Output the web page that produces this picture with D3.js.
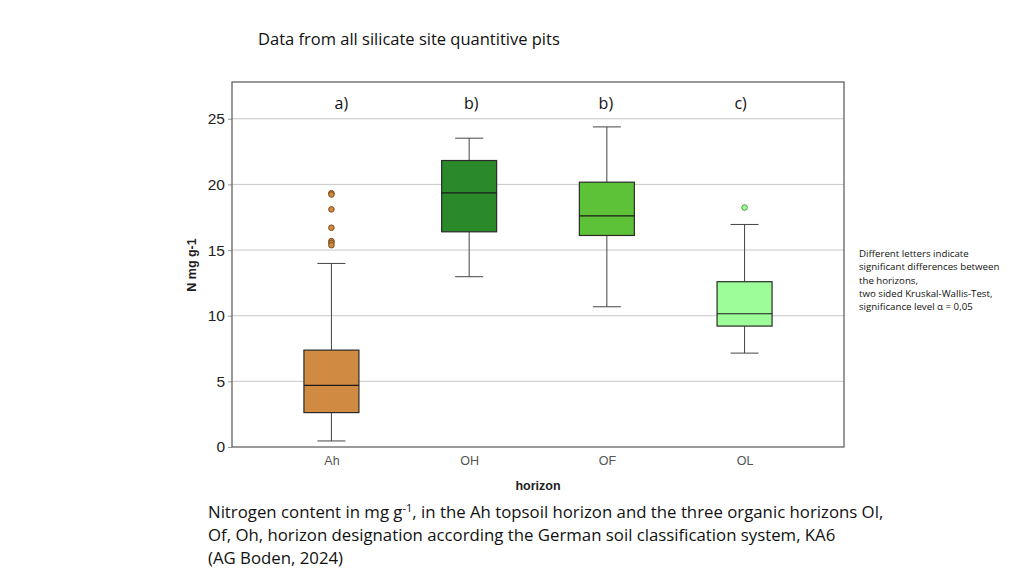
<!DOCTYPE html>
<html>
<head>
<meta charset="utf-8">
<script src="https://cdn.jsdelivr.net/npm/d3@7"></script>
<style>
  body { margin: 0; background: #fff; }
  svg { display: block; }
</style>
</head>
<body>
<svg id="chart" width="1024" height="576"></svg>
<script>
// horizons and their five-number summaries (N mg g-1)
const horizons = ["Ah", "OH", "OF", "OL"];
const whiskerLow = [0.46, 12.97, 10.68, 7.15];
const q1 = [2.62, 16.39, 16.11, 9.21];
const median = [4.70, 19.36, 17.61, 10.15];
const q3 = [7.38, 21.82, 20.17, 12.59];
const whiskerHigh = [13.98, 23.52, 24.38, 16.95];
const outliers = [
    [19.33, 19.23, 18.1, 16.7, 15.68, 15.55, 15.37],
    [],
    [],
    [18.24]
];
const groupLetters = ["a)", "b)", "b)", "c)"];
const yTicks = [0, 5, 10, 15, 20, 25];

const boxColors = ["#d18a41", "#2a8a2a", "#5ec238", "#9dfd98"];
const dotStroke = ["#7a4a1c", "#1c5c1c", "#3a7a22", "#4f9a4a"];

const svg = d3.select("#chart");

const margin = { left: 232, right: 180, top: 82, bottom: 129 };
const width = 1024 - margin.left - margin.right;
const height = 576 - margin.top - margin.bottom;

const x = d3.scalePoint()
    .domain(horizons)
    .range([0, width])
    .padding(0.722);

const y = d3.scaleLinear()
    .domain([0, 27.8])
    .range([height, 0]);

const g = svg.append("g")
    .attr("transform", `translate(${margin.left},${margin.top})`);

// gridlines
g.append("g")
    .selectAll("line")
    .data(yTicks.filter(t => t > 0))
    .enter().append("line")
    .attr("x1", 0)
    .attr("x2", width)
    .attr("y1", d => y(d))
    .attr("y2", d => y(d))
    .attr("stroke", "#c8c8c8")
    .attr("stroke-width", 1);

// y axis
const yAxis = g.append("g")
    .call(d3.axisLeft(y).tickValues(yTicks).tickSize(4).tickPadding(3));
yAxis.select(".domain").remove();
yAxis.selectAll(".tick line").attr("stroke", "#999");
yAxis.selectAll("text")
    .attr("font-family", "Liberation Sans, Arial, sans-serif")
    .attr("font-size", 15.5)
    .attr("fill", "#222");

// x axis labels
const xAxis = g.append("g")
    .attr("transform", `translate(0,${height})`)
    .call(d3.axisBottom(x).tickSize(0).tickPadding(9));
xAxis.select(".domain").remove();
xAxis.selectAll("text")
    .attr("font-family", "Liberation Sans Narrow, Liberation Sans, Arial, sans-serif")
    .attr("font-size", 12.5)
    .attr("fill", "#555");

const boxWidth = 55;
const capWidth = 28;

const boxData = horizons.map((h, i) => ({
    h: h, i: i,
    lo: whiskerLow[i], q1: q1[i], med: median[i], q3: q3[i], hi: whiskerHigh[i],
    out: outliers[i]
}));

const boxes = g.selectAll(".box")
    .data(boxData)
    .enter().append("g")
    .attr("class", "box")
    .attr("transform", d => `translate(${x(d.h)},0)`);

// whiskers
boxes.append("line")
    .attr("x1", 0).attr("x2", 0)
    .attr("y1", d => y(d.lo)).attr("y2", d => y(d.q1))
    .attr("stroke", "#444");
boxes.append("line")
    .attr("x1", 0).attr("x2", 0)
    .attr("y1", d => y(d.q3)).attr("y2", d => y(d.hi))
    .attr("stroke", "#444");
boxes.append("line")
    .attr("x1", -capWidth / 2).attr("x2", capWidth / 2)
    .attr("y1", d => y(d.lo)).attr("y2", d => y(d.lo))
    .attr("stroke", "#444");
boxes.append("line")
    .attr("x1", -capWidth / 2).attr("x2", capWidth / 2)
    .attr("y1", d => y(d.hi)).attr("y2", d => y(d.hi))
    .attr("stroke", "#444");

// boxes
boxes.append("rect")
    .attr("x", -boxWidth / 2)
    .attr("width", boxWidth)
    .attr("y", d => y(d.q3))
    .attr("height", d => y(d.q1) - y(d.q3))
    .attr("fill", (d, i) => boxColors[i])
    .attr("stroke", "#2a2a2a")
    .attr("stroke-width", 1.2);

// medians
boxes.append("line")
    .attr("x1", -boxWidth / 2).attr("x2", boxWidth / 2)
    .attr("y1", d => y(d.med)).attr("y2", d => y(d.med))
    .attr("stroke", "#1a1a1a")
    .attr("stroke-width", 1.2);

// outliers
boxes.selectAll("circle")
    .data(d => d.out.map(v => ({ v: v, i: d.i })))
    .enter().append("circle")
    .attr("cx", 0)
    .attr("cy", d => y(d.v))
    .attr("r", 2.8)
    .attr("fill", d => boxColors[d.i])
    .attr("stroke", d => dotStroke[d.i])
    .attr("stroke-width", 1);

// significance letters
const letterShift = [10, 2, -1, -4];
g.selectAll(".letter")
    .data(groupLetters)
    .enter().append("text")
    .attr("x", (d, i) => x(horizons[i]) + letterShift[i])
    .attr("y", 27)
    .attr("text-anchor", "middle")
    .attr("font-family", "Open Sans, sans-serif")
    .attr("font-size", 16)
    .attr("fill", "#111")
    .text(d => d);

// frame
g.append("rect")
    .attr("width", width)
    .attr("height", height)
    .attr("fill", "none")
    .attr("stroke", "#555")
    .attr("stroke-width", 1.2);

// axis titles
svg.append("text")
    .attr("transform", "translate(196,265) rotate(-90)")
    .attr("text-anchor", "middle")
    .attr("font-family", "Liberation Sans, Arial, sans-serif")
    .attr("font-weight", "bold")
    .attr("font-size", 12.5)
    .attr("fill", "#222")
    .text("N mg g-1");

svg.append("text")
    .attr("x", 538)
    .attr("y", 490)
    .attr("text-anchor", "middle")
    .attr("font-family", "Liberation Sans, Arial, sans-serif")
    .attr("font-weight", "bold")
    .attr("font-size", 12.5)
    .attr("fill", "#222")
    .text("horizon");

// title
svg.append("text")
    .attr("x", 258)
    .attr("y", 45)
    .attr("font-family", "Open Sans, sans-serif")
    .attr("font-size", 16.5)
    .attr("fill", "#111")
    .text("Data from all silicate site quantitive pits");

// side note
const noteLines = [
    "Different letters indicate",
    "significant differences between",
    "the horizons,",
    "two sided Kruskal-Wallis-Test,",
    "significance level \u03b1 = 0,05"
];
svg.append("g")
    .selectAll("text")
    .data(noteLines)
    .enter().append("text")
    .attr("x", 859)
    .attr("y", (d, i) => 257 + i * 13.3)
    .attr("font-family", "Open Sans, sans-serif")
    .attr("font-size", 9.7)
    .attr("fill", "#111")
    .text(d => d);

// caption
const caption = svg.append("g")
    .attr("font-family", "Open Sans, sans-serif")
    .attr("font-size", 16.8)
    .attr("fill", "#111");
const c1 = caption.append("text").attr("x", 208).attr("y", 518);
c1.append("tspan").text("Nitrogen content in mg g");
c1.append("tspan").attr("dy", -6).attr("font-size", 11).text("-1");
c1.append("tspan").attr("dy", 6).text(", in the Ah topsoil horizon and the three organic horizons Ol,");
caption.append("text").attr("x", 208).attr("y", 541)
    .text("Of, Oh, horizon designation according the German soil classification system, KA6");
caption.append("text").attr("x", 208).attr("y", 564)
    .text("(AG Boden, 2024)");
</script>
</body>
</html>
